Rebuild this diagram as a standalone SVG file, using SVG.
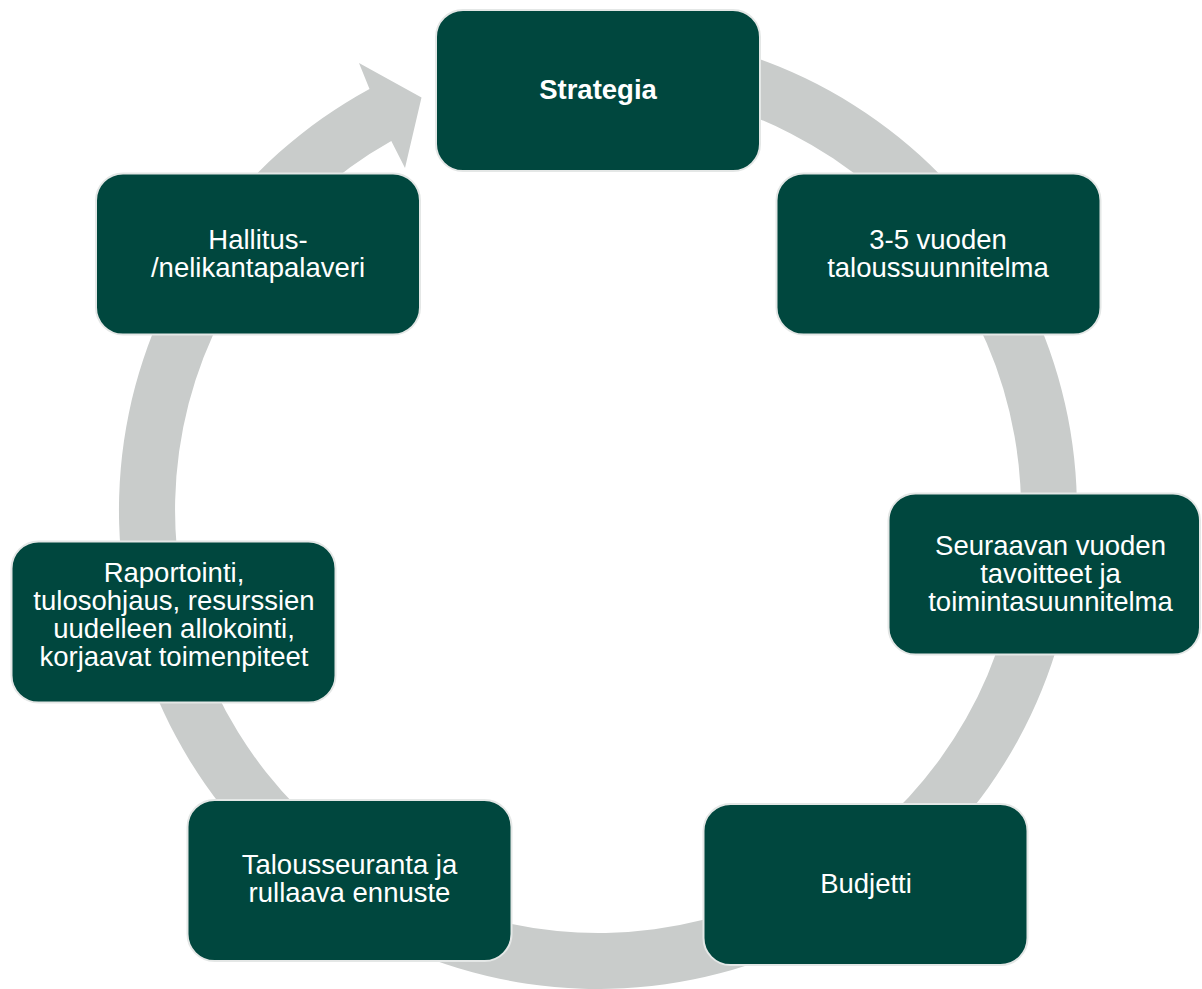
<svg xmlns="http://www.w3.org/2000/svg" width="1202" height="989" viewBox="0 0 1202 989">
  <style>
    .box { fill: #00473E; stroke: #E4E7E6; stroke-width: 2; }
    .lbl { font-family: "Liberation Sans", Arial, sans-serif; font-size: 27.5px; fill: #FFFFFF; text-anchor: middle; }
    .bold { font-weight: bold; }
    .ring { fill: #C9CCCB; stroke: none; }
  </style>
  <rect width="1202" height="989" fill="#FFFFFF"/>
  <g id="connectors">
    <path class="ring" d="M 700 42 A 479 479 0 1 1 369.5 89 L 359 63 L 421.5 97.5 L 405 168 L 391.3 141 A 423 423 0 1 0 700 99.5 Z"/>
  </g>
  <g id="node-strategia">
    <rect class="box" x="436" y="10" width="324" height="161" rx="27" ry="27"/>
    <text class="lbl bold" x="598" y="99">Strategia</text>
  </g>
  <g id="node-taloussuunnitelma">
    <rect class="box" x="776.5" y="173.5" width="324" height="161" rx="27" ry="27"/>
    <text class="lbl" x="938" y="248.5">3-5 vuoden</text>
    <text class="lbl" x="938" y="276.5">taloussuunnitelma</text>
  </g>
  <g id="node-seuraavan">
    <rect class="box" x="888.5" y="493.5" width="311.5" height="161" rx="27" ry="27"/>
    <text class="lbl" x="1050.5" y="554.5">Seuraavan vuoden</text>
    <text class="lbl" x="1050.5" y="582.5">tavoitteet ja</text>
    <text class="lbl" x="1050.5" y="610.5">toimintasuunnitelma</text>
  </g>
  <g id="node-budjetti">
    <rect class="box" x="703.5" y="804" width="324" height="161" rx="27" ry="27"/>
    <text class="lbl" x="866" y="892.5">Budjetti</text>
  </g>
  <g id="node-talousseuranta">
    <rect class="box" x="187.5" y="800" width="324" height="161" rx="27" ry="27"/>
    <text class="lbl" x="349.5" y="874">Talousseuranta ja</text>
    <text class="lbl" x="349.5" y="902">rullaava ennuste</text>
  </g>
  <g id="node-raportointi">
    <rect class="box" x="11.5" y="541.5" width="324" height="161" rx="27" ry="27"/>
    <text class="lbl" x="174" y="582">Raportointi,</text>
    <text class="lbl" x="174" y="610">tulosohjaus, resurssien</text>
    <text class="lbl" x="174" y="638">uudelleen allokointi,</text>
    <text class="lbl" x="174" y="666">korjaavat toimenpiteet</text>
  </g>
  <g id="node-hallitus">
    <rect class="box" x="96" y="173.5" width="324" height="161" rx="27" ry="27"/>
    <text class="lbl" x="258" y="249">Hallitus-</text>
    <text class="lbl" x="258" y="277">/nelikantapalaveri</text>
  </g>
</svg>
